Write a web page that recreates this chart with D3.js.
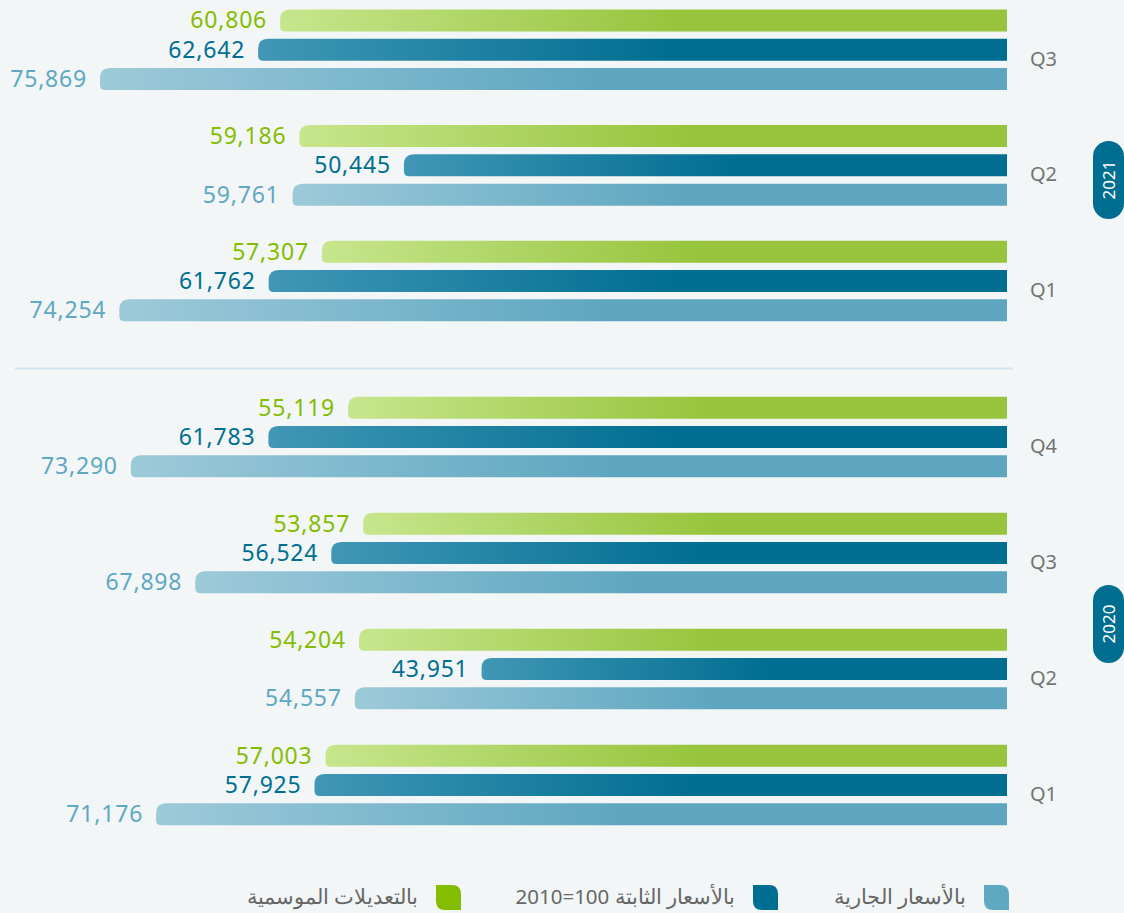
<!DOCTYPE html>
<html>
<head>
<meta charset="utf-8">
<script src="https://cdn.jsdelivr.net/npm/d3@7"></script>
<style>
  body { margin: 0; background: #f2f6f7; }
  svg { display: block; font-family: "Noto Sans", "Open Sans", sans-serif; }
</style>
</head>
<body>
<svg id="chart" width="1124" height="913"></svg>
<script>
// series: seasonal adjusted, constant prices 2010=100, current prices
var series_keys = ['seasonal', 'constant', 'current'];
var series_names = ['بالتعديلات الموسمية', 'بالأسعار الثابتة 100=2010', 'بالأسعار الجارية'];

var quarters_2021 = ['Q3', 'Q2', 'Q1'];
var seasonal_2021 = [60806, 59186, 57307];
var constant_2021 = [62642, 50445, 61762];
var current_2021 = [75869, 59761, 74254];

var quarters_2020 = ['Q4', 'Q3', 'Q2', 'Q1'];
var seasonal_2020 = [55119, 53857, 54204, 57003];
var constant_2020 = [61783, 56524, 43951, 57925];
var current_2020 = [73290, 67898, 54557, 71176];

var bar_colors = {
    seasonal: ['#c6e68d', '#97c43c'],
    constant: ['#4197b5', '#006e91'],
    current: ['#9dcad9', '#5ea6c0']
};
var label_colors = {seasonal: '#84bd00', constant: '#006e91', current: '#5fa8c2'};
var legend_colors = {seasonal: '#84bd00', constant: '#006e91', current: '#5fa8c2'};

var svg = d3.select('#chart');

var x_scale = d3.scaleLinear()
    .domain([0, 84233])
    .range([1007, 0]);

var inner = d3.scalePoint()
    .domain(series_keys)
    .range([-29.3, 29.3]);

var bar_h = 22;

var defs = svg.append('defs');
series_keys.forEach(function (k) {
    var g = defs.append('linearGradient')
        .attr('id', 'grad_' + k)
        .attr('x1', '0').attr('x2', '1').attr('y1', '0').attr('y2', '0');
    g.append('stop').attr('offset', '0').attr('stop-color', bar_colors[k][0]);
    g.append('stop').attr('offset', '0.55').attr('stop-color', bar_colors[k][1]);
    g.append('stop').attr('offset', '1').attr('stop-color', bar_colors[k][1]);
});

// left end rounded like a leaf: big radius top-left, small bottom-left
function bar_path(x0, x1, yc) {
    var t = yc - bar_h / 2, b = yc + bar_h / 2;
    var r1 = 10, r2 = 5;
    return 'M' + x1 + ',' + t +
        'L' + (x0 + r1) + ',' + t +
        'Q' + x0 + ',' + t + ' ' + x0 + ',' + (t + r1) +
        'L' + x0 + ',' + (b - r2) +
        'Q' + x0 + ',' + b + ' ' + (x0 + r2) + ',' + b +
        'L' + x1 + ',' + b + 'Z';
}

function draw_block(quarters, seasonal, constant, current, y_range, year, pill_y) {
    var y_scale = d3.scalePoint()
        .domain(quarters)
        .range(y_range);

    var rows = [];
    quarters.forEach(function (q, i) {
        rows.push({q: q, key: 'seasonal', value: seasonal[i]});
        rows.push({q: q, key: 'constant', value: constant[i]});
        rows.push({q: q, key: 'current', value: current[i]});
    });

    var g = svg.append('g');

    g.selectAll('.bar')
        .data(rows)
        .enter()
        .append('path')
        .attr('class', 'bar')
        .attr('d', function (d) {
            return bar_path(x_scale(d.value), x_scale(0), y_scale(d.q) + inner(d.key));
        })
        .attr('fill', function (d) { return 'url(#grad_' + d.key + ')'; });

    g.selectAll('.val')
        .data(rows)
        .enter()
        .append('text')
        .attr('class', 'val')
        .attr('x', function (d) { return x_scale(d.value) - 13; })
        .attr('y', function (d) { return y_scale(d.q) + inner(d.key); })
        .attr('dy', '0.35em')
        .attr('text-anchor', 'end')
        .attr('font-size', '23px')
        .attr('letter-spacing', '0.8px')
        .attr('fill', function (d) { return label_colors[d.key]; })
        .text(function (d) { return d3.format(',')(d.value); });

    g.selectAll('.qlab')
        .data(quarters)
        .enter()
        .append('text')
        .attr('class', 'qlab')
        .attr('x', 1030)
        .attr('y', function (d) { return y_scale(d) + 9; })
        .attr('dy', '0.35em')
        .attr('font-size', '20px')
        .attr('fill', '#737373')
        .text(function (d) { return d; });

    // year pill
    g.append('rect')
        .attr('x', 1093)
        .attr('y', pill_y - 39)
        .attr('width', 31)
        .attr('height', 78)
        .attr('rx', 15.5)
        .attr('fill', '#006e91');

    g.append('text')
        .attr('transform', 'translate(1109,' + pill_y + ') rotate(-90)')
        .attr('text-anchor', 'middle')
        .attr('dy', '0.36em')
        .attr('font-size', '17px')
        .attr('fill', '#ffffff')
        .text(year);
}

draw_block(quarters_2021, seasonal_2021, constant_2021, current_2021, [49.7, 281], '2021', 180);
draw_block(quarters_2020, seasonal_2020, constant_2020, current_2020, [437, 785], '2020', 624);

// separator between years
svg.append('line')
    .attr('x1', 15).attr('x2', 1013)
    .attr('y1', 368.5).attr('y2', 368.5)
    .attr('stroke', '#d3e5ef')
    .attr('stroke-width', 2);

// legend
var legend_x = d3.scaleOrdinal()
    .domain(['current', 'constant', 'seasonal'])
    .range([984, 753, 436]);

var legend = svg.append('g');
var items = series_keys.map(function (k, i) { return {key: k, name: series_names[i]}; });

legend.selectAll('.lg')
    .data(items)
    .enter()
    .append('path')
    .attr('d', function (d) {
        var x = legend_x(d.key), y = 885, s = 25, r = 9;
        return 'M' + x + ',' + y +
            'L' + (x + s - r) + ',' + y +
            'Q' + (x + s) + ',' + y + ' ' + (x + s) + ',' + (y + r) +
            'L' + (x + s) + ',' + (y + s) +
            'L' + (x + r) + ',' + (y + s) +
            'Q' + x + ',' + (y + s) + ' ' + x + ',' + (y + s - r) + 'Z';
    })
    .attr('fill', function (d) { return legend_colors[d.key]; });

legend.selectAll('.lt')
    .data(items)
    .enter()
    .append('text')
    .attr('x', function (d) { return legend_x(d.key) - 18; })
    .attr('y', 897)
    .attr('dy', '0.35em')
    .attr('text-anchor', 'end')
    .attr('font-size', '20.5px')
    .attr('fill', '#666666')
    .text(function (d) { return d.name; });
</script>
</body>
</html>
